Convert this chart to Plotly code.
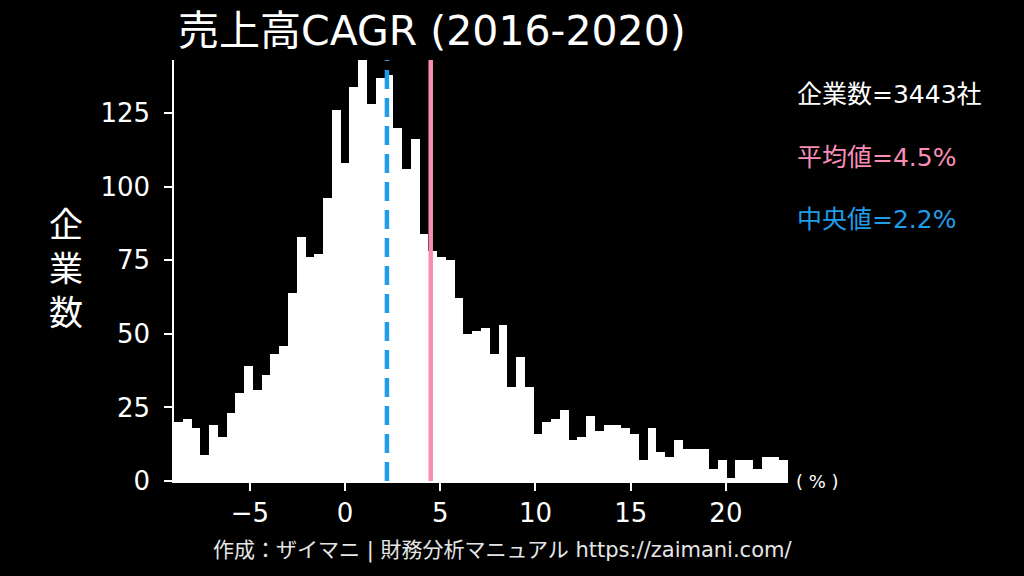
import plotly.graph_objects as go

# ---- data ----
BIN_START = -8.98
BIN_END = 23.26
counts = [20, 21, 18, 9, 19, 15, 23, 30, 39, 31, 36, 43, 46,
          64, 83, 76, 77, 96, 126, 108, 134, 143, 128, 137, 138, 120, 106, 116, 84, 78,
          76, 75, 62, 50, 51, 52, 43, 53, 32, 42, 32, 16, 20, 21, 24, 14, 15, 22, 17, 19,
          19, 18, 16, 7, 18, 10, 8, 14, 11, 11, 11, 4, 7, 1, 7, 7, 4, 8, 8, 7]
MEAN = 4.5
MEDIAN = 2.2
N_COMPANIES = 3443
x_ticks = [-5, 0, 5, 10, 15, 20]
x_tick_labels = ["−5", "0", "5", "10", "15", "20"]
y_ticks = [0, 25, 50, 75, 100, 125]

TITLE = "売上高CAGR (2016-2020)"
Y_TITLE = "企<br>業<br>数"
FOOTER = "作成：ザイマニ | 財務分析マニュアル https://zaimani.com/"

PINK = "#f98db6"
BLUE = "#1f9de9"
FONT = "DejaVu Sans, Noto Sans CJK JP"
CJK = "Noto Sans CJK JP"

W, H = 1024, 576
L, R, T, B = 174, 788, 60, 481  # plot area in pixels


def px(x):
    return (x - L) / (R - L)


def py(y):
    return (B - y) / (B - T)


bw = (BIN_END - BIN_START) / len(counts)

fig = go.Figure(
    go.Bar(
        x0=BIN_START + bw / 2,
        dx=bw,
        y=counts,
        width=bw,
        marker=dict(color="white", line=dict(width=0)),
        hoverinfo="skip",
    )
)

axis_common = dict(
    showline=True, linecolor="white", linewidth=1.5,
    ticks="outside", ticklen=8, tickwidth=1.5, tickcolor="white",
    showgrid=False, zeroline=False,
    tickfont=dict(family=FONT, size=26, color="white"),
)

fig.update_layout(
    width=W, height=H,
    paper_bgcolor="black", plot_bgcolor="black",
    margin=dict(l=L, r=W - R, t=T, b=H - B),
    bargap=0, showlegend=False,
    xaxis=dict(range=[BIN_START, BIN_END], tickvals=x_ticks, ticktext=x_tick_labels,
               ticklabelstandoff=0, **axis_common),
    yaxis=dict(range=[0, max(counts)], tickvals=y_ticks, ticklabelstandoff=9, **axis_common),
    font=dict(family=FONT, color="white"),
)

fig.add_shape(type="line", xref="x", yref="paper", x0=MEDIAN, x1=MEDIAN, y0=0, y1=1,
              line=dict(color=BLUE, width=4.5, dash="19px,9px"))
fig.add_shape(type="line", xref="x", yref="paper", x0=MEAN, x1=MEAN, y0=0, y1=1,
              line=dict(color=PINK, width=4.5))

ann = [
    dict(text=TITLE, x=px(176), y=py(31), xanchor="left", yanchor="middle",
         font=dict(size=41, color="white")),
    dict(text=Y_TITLE, x=px(66), y=py(266), xanchor="center", yanchor="middle",
         font=dict(family=CJK, size=34, color="white")),
    dict(text=f"企業数={N_COMPANIES}社", x=px(795), y=py(94), xanchor="left", yanchor="middle",
         font=dict(size=25, color="white")),
    dict(text=f"平均値={MEAN}%", x=px(795), y=py(157), xanchor="left", yanchor="middle",
         font=dict(size=25, color=PINK)),
    dict(text=f"中央値={MEDIAN}%", x=px(795), y=py(219), xanchor="left", yanchor="middle",
         font=dict(size=25, color=BLUE)),
    dict(text="( % )", x=px(794), y=py(481), xanchor="left", yanchor="middle",
         font=dict(size=18, color="white")),
    dict(text=FOOTER, x=px(502), y=py(550), xanchor="center", yanchor="middle",
         font=dict(size=21, color="#e6e6e6")),
]

for a in ann:
    a.update(xref="paper", yref="paper", showarrow=False)
    fig.add_annotation(**a)

fig.write_html("out.html", config={"displayModeBar": False},
               post_script="document.body.style.margin='0';")
